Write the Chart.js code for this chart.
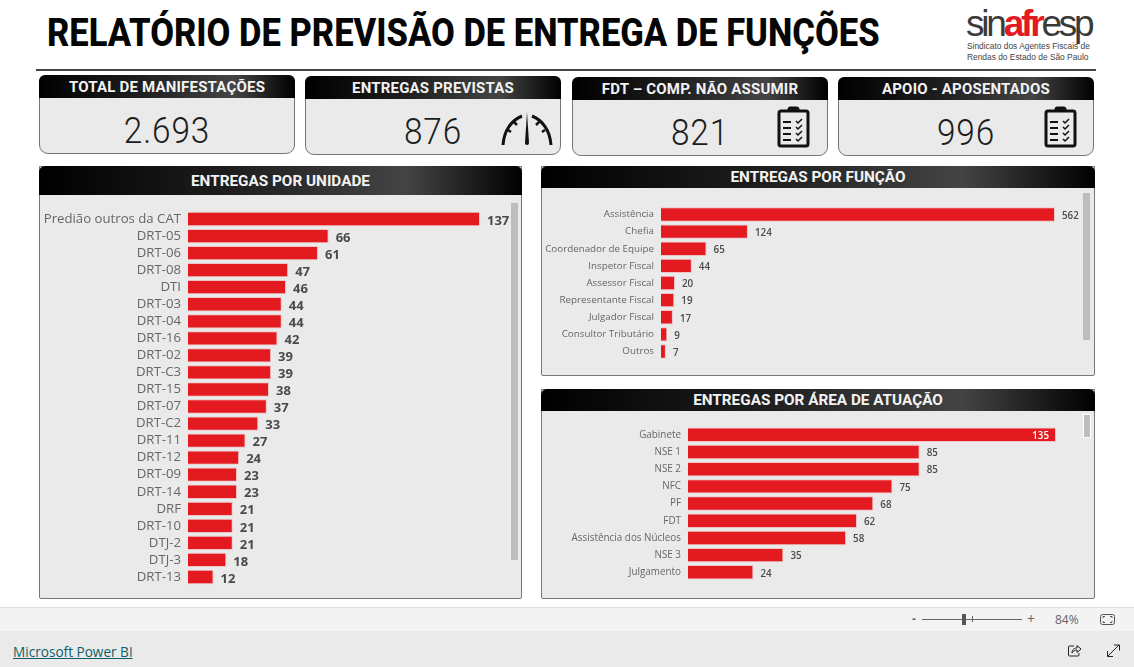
<!DOCTYPE html>
<html lang="pt-BR">
<head>
<meta charset="utf-8">
<title>Relatório de Previsão de Entrega de Funções</title>
<script src="https://cdn.jsdelivr.net/npm/chart.js@4/dist/chart.umd.min.js"></script>
<style>
html, body { margin: 0; padding: 0; background: #fff; width: 1134px; height: 667px; overflow: hidden; font-family: Roboto, sans-serif; }
.abs, .panel, .head, canvas, .scroll { position: absolute; }
.title { left: 47px; top: 11px; font-size: 38px; font-weight: 800; color: #050505; white-space: nowrap; transform-origin: left top; transform: scaleX(.909); }
.rule { left: 36px; top: 69px; width: 1060px; height: 2px; background: #444; }
.panel { background: #eaeaea; border: 1px solid #777; box-sizing: border-box; border-radius: 0 0 2px 2px; }
.panel.kpi { border-radius: 9px; }
.head { left: -1px; right: -1px; top: -1px; color: #f2f2f2; font-weight: 700; text-align: center; border-radius: 6px 6px 0 0;
  background: linear-gradient(90deg, #000 0%, #1e1e1e 40%, #444 76%, #000 100%); }
.kpi .head { height: 23px; line-height: 25px; font-size: 15px; letter-spacing: .2px; }
.big .head { font-size: 15.3px; }
.val { position: absolute; top: 33px; font-size: 37px; font-weight: 350; color: #1c1c1c; text-align: center; letter-spacing: 1px; transform: scaleX(.9); }
.scroll { background: #bdbdbd; width: 7px; }
.logo { left: 966px; top: 3px; font-family: "Liberation Sans", sans-serif; font-size: 37px; letter-spacing: -3.2px; color: #3a3a3a; white-space: nowrap; }
.logo b { color: #e31a1f; font-weight: 700; }
.sub { left: 967px; top: 41px; font-family: "Liberation Sans", sans-serif; font-size: 8.4px; line-height: 10.8px; color: #444; white-space: nowrap; }
.zoombar { left: 0; top: 607px; width: 1134px; height: 23px; background: #f3f3f3; border-top: 1px solid #ddd; border-bottom: 1px solid #ccc; }
.foot { left: 0; top: 631px; width: 1134px; height: 36px; background: #eaeaea; }
.link { left: 13px; top: 642px; font-size: 13.6px; color: #0f5f6b; text-decoration: underline; font-family: "Open Sans", sans-serif; }
.ztxt { font-family: "Open Sans", sans-serif; font-size: 12px; color: #666; }
</style>
</head>
<body>
<div class="abs title" id="title">RELATÓRIO DE PREVISÃO DE ENTREGA DE FUNÇÕES</div>
<div class="abs logo">sin<b>afr</b>esp</div>
<div class="abs sub">Sindicato dos Agentes Fiscais de<br>Rendas do Estado de São Paulo</div>
<div class="abs rule"></div>

<div class="panel kpi" style="left:39px;top:75px;width:256px;height:79px"><div class="head">TOTAL DE MANIFESTAÇÕES</div><div class="val" style="left:0;width:254px">2.693</div></div>
<div class="panel kpi" style="left:305px;top:76px;width:256px;height:79px"><div class="head">ENTREGAS PREVISTAS</div><div class="val" style="left:72px;width:110px">876</div></div>
<div class="panel kpi" style="left:572px;top:77px;width:256px;height:79px"><div class="head">FDT – COMP. NÃO ASSUMIR</div><div class="val" style="left:72px;width:110px">821</div></div>
<div class="panel kpi" style="left:838px;top:77px;width:256px;height:79px"><div class="head">APOIO - APOSENTADOS</div><div class="val" style="left:72px;width:110px">996</div></div>

<!-- gauge icon -->
<svg class="abs" style="left:500px;top:110px" width="54" height="38" viewBox="0 0 54 38" fill="none" stroke="#111">
  <path d="M3 35 C4 20 12 10 22 6" stroke-width="3"/>
  <path d="M51 35 C50 20 42 10 32 6" stroke-width="3"/>
  <path d="M8 20l3 2M14 12l3 3M45 20l-3 2M39 12l-3 3" stroke-width="2.5"/>
  <path d="M27 2 L25 33 A2 2 0 0 0 29 33 Z" fill="#111" stroke="none"/>
</svg>
<!-- clipboards -->
<svg class="abs" style="left:777px;top:105px" width="33" height="43" viewBox="0 0 33 43" id="clip1" fill="none" stroke="#111"></svg>
<svg class="abs" style="left:1044px;top:105px" width="33" height="43" viewBox="0 0 33 43" id="clip2" fill="none" stroke="#111"></svg>

<div class="panel big" style="left:39px;top:166px;width:483px;height:433px"><div class="head" style="height:29px;line-height:31px">ENTREGAS POR UNIDADE</div></div>
<div class="panel big" style="left:541px;top:166px;width:554px;height:210px"><div class="head" style="height:22px;line-height:23px">ENTREGAS POR FUNÇÃO</div></div>
<div class="panel big" style="left:541px;top:389px;width:554px;height:210px"><div class="head" style="height:22px;line-height:23px">ENTREGAS POR ÁREA DE ATUAÇÃO</div></div>

<div class="scroll" style="left:511px;top:203px;height:357px"></div>
<div class="scroll" style="left:1083px;top:193px;height:147px"></div>
<div class="scroll" style="left:1083px;top:414px;height:22px;border:1px solid #fff;width:6px"></div>

<canvas id="chartUnidade" width="470" height="401" style="left:40px;top:196px"></canvas>
<canvas id="chartFuncao" width="540" height="186" style="left:542px;top:188px"></canvas>
<canvas id="chartArea" width="540" height="186" style="left:542px;top:411px"></canvas>

<div class="abs zoombar"></div>
<div class="abs foot"></div>
<a class="abs link">Microsoft Power BI</a>
<div class="abs ztxt" style="left:912px;top:610px;font-weight:700">-</div>
<div class="abs" style="left:922px;top:619px;width:100px;height:1px;background:#666"></div>
<div class="abs" style="left:962px;top:614px;width:4px;height:11px;background:#555"></div>
<div class="abs" style="left:972px;top:616px;width:1px;height:6px;background:#666"></div>
<div class="abs ztxt" style="left:1027px;top:609px;font-size:14px">+</div>
<div class="abs ztxt" style="left:1055px;top:611px">84%</div>
<svg class="abs" style="left:1100px;top:613px" width="16" height="13" fill="none" stroke="#555"><rect x=".5" y="1.500" width="14" height="10" rx="2"/><path d="M3 5V3.500H5M12 5V3.500H10M3 8v1.500H5M12 8v1.500H10"/></svg>
<svg class="abs" style="left:1067px;top:643px" width="15" height="15" fill="none" stroke="#222"><path d="M7 3H2.500A1 1 0 0 0 1.500 4v8a1 1 0 0 0 1 1H11a1 1 0 0 0 1-1V10"/><path d="M5 10C5 6 8 5 10 5V2.500L14 6 10 9.500V7C8 7 6 8 5 10Z"/></svg>
<svg class="abs" style="left:1106px;top:643px" width="15" height="15" fill="none" stroke="#222"><path d="M2 13L13 2M8 2h5.500v5.500M7 13.500H1.500V8"/></svg>

<script>
// Entregas por unidade
const unidadeLabels = ['Predião outros da CAT', 'DRT-05', 'DRT-06', 'DRT-08', 'DTI', 'DRT-03', 'DRT-04', 'DRT-16', 'DRT-02', 'DRT-C3', 'DRT-15', 'DRT-07', 'DRT-C2', 'DRT-11', 'DRT-12', 'DRT-09', 'DRT-14', 'DRF', 'DRT-10', 'DTJ-2', 'DTJ-3', 'DRT-13'];
const unidadeValues = [137, 66, 61, 47, 46, 44, 44, 42, 39, 39, 38, 37, 33, 27, 24, 23, 23, 21, 21, 21, 18, 12];

// Entregas por funcao
const funcaoLabels = ['Assistência', 'Chefia', 'Coordenador de Equipe', 'Inspetor Fiscal', 'Assessor Fiscal', 'Representante Fiscal', 'Julgador Fiscal', 'Consultor Tributário', 'Outros'];
const funcaoValues = [562, 124, 65, 44, 20, 19, 17, 9, 7];

// Entregas por area de atuacao
const areaLabels = ['Gabinete', 'NSE 1', 'NSE 2', 'NFC', 'PF', 'FDT', 'Assistência dos Núcleos', 'NSE 3', 'Julgamento'];
const areaValues = [135, 85, 85, 75, 68, 62, 58, 35, 24];

// Draws the value next to each bar
const valueLabels = {
    id: 'valueLabels',
    afterDatasetsDraw(chart, args, opts) {
        const ctx = chart.ctx;
        const meta = chart.getDatasetMeta(0);
        const values = chart.data.datasets[0].data;
        ctx.save();
        ctx.font = opts.font;
        ctx.textBaseline = 'middle';
        meta.data.forEach((bar, i) => {
            if (opts.insideMax && values[i] === Math.max(...values)) {
                ctx.fillStyle = '#fff';
                ctx.textAlign = 'right';
                ctx.fillText(values[i], bar.x - opts.gap, bar.y + opts.dy);
            } else {
                ctx.fillStyle = opts.color;
                ctx.textAlign = 'left';
                ctx.fillText(values[i], bar.x + opts.gap, bar.y + opts.dy);
            }
        });
        ctx.restore();
    }
};

function barChart(id, labels, values, cfg) {
    return new Chart(document.getElementById(id), {
        type: 'bar',
        data: {
            labels: labels,
            datasets: [{
                data: values,
                backgroundColor: '#e31a1f',
                borderColor: 'rgba(240, 170, 175, 0.6)',
                borderWidth: 1,
                barPercentage: 0.84,
                categoryPercentage: 1
            }]
        },
        options: {
            indexAxis: 'y',
            responsive: false,
            animation: false,
            layout: { padding: cfg.padding },
            plugins: {
                legend: { display: false },
                tooltip: { enabled: false },
                valueLabels: { font: cfg.valueFont, color: '#4a4a4a', gap: cfg.gap, dy: cfg.dy, insideMax: cfg.insideMax }
            },
            scales: {
                x: { display: false, min: 0, max: Math.max(...values) },
                y: {
                    grid: { display: false, drawTicks: false },
                    border: { display: false },
                    // the tick labels would otherwise push the chart area in
                    afterFit: scale => {
                        scale.width = cfg.axisWidth;
                        scale.paddingTop = 0;
                        scale.paddingBottom = 0;
                    },
                    ticks: {
                        autoSkip: false,
                        padding: cfg.tickPadding,
                        color: '#666',
                        font: { family: '"Open Sans", sans-serif', size: cfg.labelSize }
                    }
                }
            }
        },
        plugins: [valueLabels]
    });
}

// Clipboard icons
['clip1', 'clip2'].forEach(id => {
    let rows = '';
    [17, 23, 29, 35].forEach(y => {
        rows += `<path d="M6 ${y}h8" stroke-width="2"/><path d="M19 ${y - 1}l2 2 4-4" stroke-width="1.500"/>`;
    });
    document.getElementById(id).innerHTML =
        '<rect x="2" y="6" width="29" height="35" rx="2" stroke-width="3"/>' +
        '<path d="M11 6V4a2 2 0 0 1 2-2h7a2 2 0 0 1 2 2v2z" fill="#111"/>' + rows;
});

function initCharts() {
    barChart('chartUnidade', unidadeLabels, unidadeValues, {
        padding: { top: 14.5, bottom: 11.5, left: 0, right: 30 },
        axisWidth: 148, tickPadding: 7, labelSize: 13.2,
        valueFont: 'bold 13px "Open Sans", sans-serif', gap: 7, dy: 2
    });
    barChart('chartFuncao', funcaoLabels, funcaoValues, {
        padding: { top: 18, bottom: 14, left: 0, right: 27 },
        axisWidth: 119, tickPadding: 7, labelSize: 9.8,
        valueFont: '600 9.8px "Open Sans", sans-serif', gap: 7, dy: 1.5
    });
    barChart('chartArea', areaLabels, areaValues, {
        padding: { top: 15.2, bottom: 16.1, left: 0, right: 26 },
        axisWidth: 146, tickPadding: 7, labelSize: 9.9,
        valueFont: '600 9.8px "Open Sans", sans-serif', gap: 7, dy: 1.5, insideMax: true
    });
}

document.addEventListener('DOMContentLoaded', initCharts);
</script>
</body>
</html>
